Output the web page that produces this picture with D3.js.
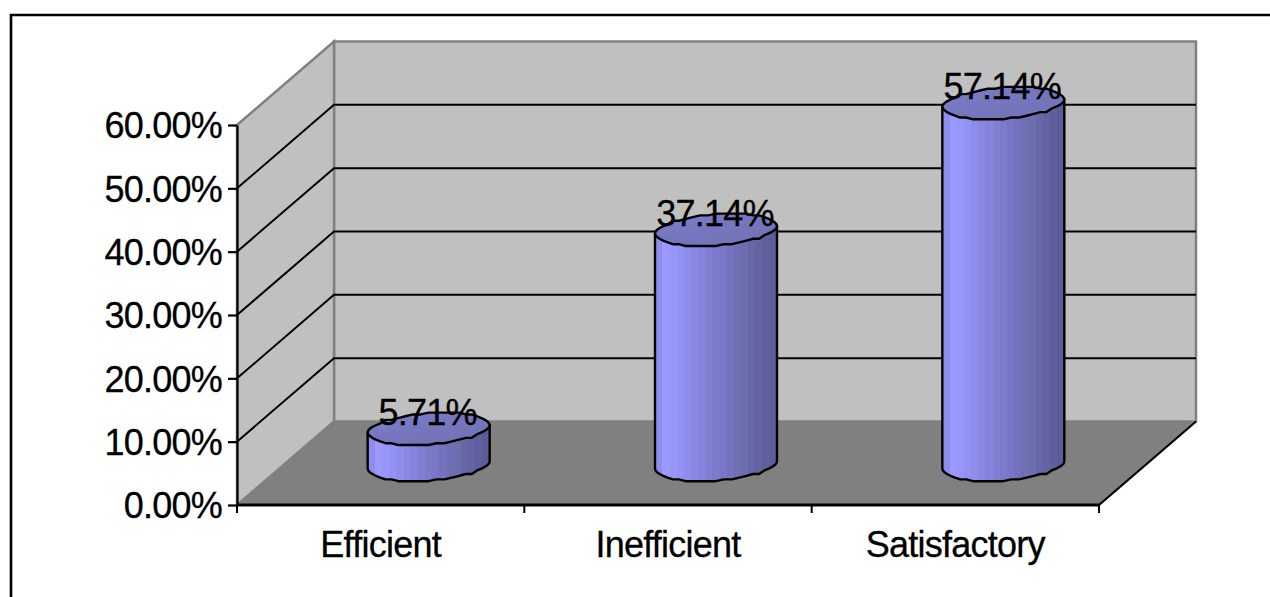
<!DOCTYPE html>
<html>
<head>
<meta charset="utf-8">
<script src="https://cdnjs.cloudflare.com/ajax/libs/d3/7.8.5/d3.min.js"></script>
<style>
html,body{margin:0;padding:0;background:#fff;overflow:hidden}
svg{display:block}
text{font-family:"Liberation Sans",Arial,sans-serif;fill:#000;stroke:#000;stroke-width:0.3px}
</style>
</head>
<body>
<svg id="chart" width="1270" height="597"></svg>
<script>
const categories = ["Efficient", "Inefficient", "Satisfactory"];
const shares = [0.0571, 0.3714, 0.5714];
const shareLabels = ["5.71%", "37.14%", "57.14%"];
const tickValues = [0, 0.1, 0.2, 0.3, 0.4, 0.5, 0.6];
const sideShades = ["#8d8dee", "#9999ff", "#9797fb", "#9292f4", "#8d8dec", "#8888e3", "#8484dc", "#7f7fd4",
  "#7b7bcc", "#7777c5", "#7373bd", "#6f6fb6", "#6b6fae", "#6767a8", "#6363a2", "#5f5f9c", "#5c5c98"];

const svg = d3.select("#chart");

// Front plane of the 3D box, and how far the back wall is pushed away from it
const y = d3.scaleLinear().domain([0, 0.6]).range([505, 125]);
const x = d3.scaleBand().domain(categories).range([237, 1099]);
const depth = { dx: 97, dy: -83.5 };
const radiusX = 61, radiusY = 15.5, tilt = 4;
const fontSize = 36, tracking = -0.75;

const defs = svg.append("defs");
// Hard-edged stops give the cylinder sides their faceted look
const grad = defs.append("linearGradient").attr("id", "barSide")
  .attr("x1", 0).attr("x2", 1).attr("y1", 0).attr("y2", 0);
sideShades.forEach((c, i) => {
  grad.append("stop").attr("offset", i / sideShades.length).attr("stop-color", c);
  grad.append("stop").attr("offset", (i + 1) / sideShades.length).attr("stop-color", c);
});
const gradTop = defs.append("linearGradient").attr("id", "barTop")
  .attr("x1", 0).attr("x2", 1).attr("y1", 0).attr("y2", 1);
gradTop.append("stop").attr("offset", 0).attr("stop-color", "#7c7ccb");
gradTop.append("stop").attr("offset", 1).attr("stop-color", "#7070b2");

const poly = pts => pts.map(p => p.join(",")).join(" ");
const bx = v => v + depth.dx, by = v => v + depth.dy;
const [x0, x1] = x.range();
const yBase = y(0), yTop = y(0.6);

// Outer frame: only the top and left edges fall inside the page
svg.append("polyline")
  .attr("points", poly([[11, 597], [11, 15], [1270, 15]]))
  .attr("fill", "none").attr("stroke", "#000").attr("stroke-width", 2.6);

// Back wall, side wall and floor
svg.append("polygon")
  .attr("points", poly([[x0, yBase], [bx(x0), by(yBase)], [bx(x1), by(yBase)], [x1, yBase]]))
  .attr("fill", "#808080").attr("stroke", "#808080").attr("stroke-width", 1);
svg.append("polygon")
  .attr("points", poly([[bx(x0), by(yTop)], [bx(x1), by(yTop)], [bx(x1), by(yBase)], [bx(x0), by(yBase)]]))
  .attr("fill", "#c0c0c0").attr("stroke", "#808080").attr("stroke-width", 2.5);
svg.append("polygon")
  .attr("points", poly([[x0, yTop], [bx(x0), by(yTop)], [bx(x0), by(yBase)], [x0, yBase]]))
  .attr("fill", "#c0c0c0").attr("stroke", "#808080").attr("stroke-width", 2.5);

// Gridlines wrap from the front axis, across the side wall, along the back wall
svg.append("g").selectAll("polyline").data(tickValues.slice(1, -1)).join("polyline")
  .attr("points", d => poly([[x0, y(d)], [bx(x0), by(y(d))], [bx(x1), by(y(d))]]))
  .attr("fill", "none").attr("stroke", "#000").attr("stroke-width", 2);

// Front and right edges of the floor
svg.append("line").attr("x1", x0).attr("x2", x1).attr("y1", yBase).attr("y2", yBase)
  .attr("stroke", "#000").attr("stroke-width", 3);
svg.append("line").attr("x1", x1).attr("x2", bx(x1)).attr("y1", yBase).attr("y2", by(yBase))
  .attr("stroke", "#000").attr("stroke-width", 2.2);

// Value axis
const yAxis = d3.axisLeft(y).tickValues(tickValues).tickSize(9).tickSizeOuter(0)
  .tickFormat(d3.format(".2%")).tickPadding(6);
const gy = svg.append("g").attr("transform", `translate(${x0},0)`).call(yAxis);
gy.selectAll("path,line").attr("stroke", "#000").attr("stroke-width", 2.2);
gy.selectAll("text").attr("font-size", fontSize).attr("letter-spacing", tracking).attr("dy", "0.36em");

// Category axis, with ticks on the band edges
const edges = [...categories.map(c => x(c)), x1];
svg.append("g").selectAll("line").data(edges).join("line")
  .attr("x1", d => d).attr("x2", d => d).attr("y1", yBase).attr("y2", yBase + 8)
  .attr("stroke", "#000").attr("stroke-width", 2);
svg.append("g").selectAll("text").data(categories).join("text")
  .attr("x", d => x(d) + x.bandwidth() / 2)
  .attr("y", 557).attr("text-anchor", "middle")
  .attr("font-size", fontSize).attr("letter-spacing", tracking)
  .text(d => d);

// Cylinders stand in the middle of the floor's depth
const barX = c => x(c) + x.bandwidth() / 2 + depth.dx / 2 - 0.5;
const barBase = 465;
const barTop = i => barBase - (yBase - y(shares[i]));

// Ellipse outline, slightly tilted and snapped to a coarse grid for its stepped edge
const arcPoints = (cx, cy, from, to, n) => d3.range(n + 1).map(i => {
  const a = from + (to - from) * i / n;
  const c = Math.cos(a), s = Math.sin(a);
  const dy = radiusY * s - tilt * c;
  return [cx + radiusX * c, cy + Math.round(dy / 1.8) * 1.8];
});
const line = d3.line().curve(d3.curveLinear);

const bars = svg.append("g").selectAll("g").data(categories).join("g");
bars.append("path")
  .attr("d", (c, i) => {
    const cx = barX(c), top = barTop(i);
    return line([...arcPoints(cx, barBase, 0, Math.PI, 24),
      [cx - radiusX, top + tilt], [cx + radiusX, top - tilt]]) + "Z";
  })
  .attr("fill", "url(#barSide)").attr("stroke", "#000").attr("stroke-width", 2.4).attr("stroke-linejoin", "round");
bars.append("path")
  .attr("d", (c, i) => line(arcPoints(barX(c), barTop(i), 0, 2 * Math.PI, 48)) + "Z")
  .attr("fill", "url(#barTop)").attr("stroke", "#000").attr("stroke-width", 2.4).attr("stroke-linejoin", "round");

// Value labels sit over the cylinder tops
bars.append("text")
  .attr("x", c => barX(c) - 1)
  .attr("y", (c, i) => barTop(i) - 4)
  .attr("text-anchor", "middle").attr("font-size", fontSize).attr("letter-spacing", tracking)
  .text((c, i) => shareLabels[i]);
</script>
</body>
</html>
